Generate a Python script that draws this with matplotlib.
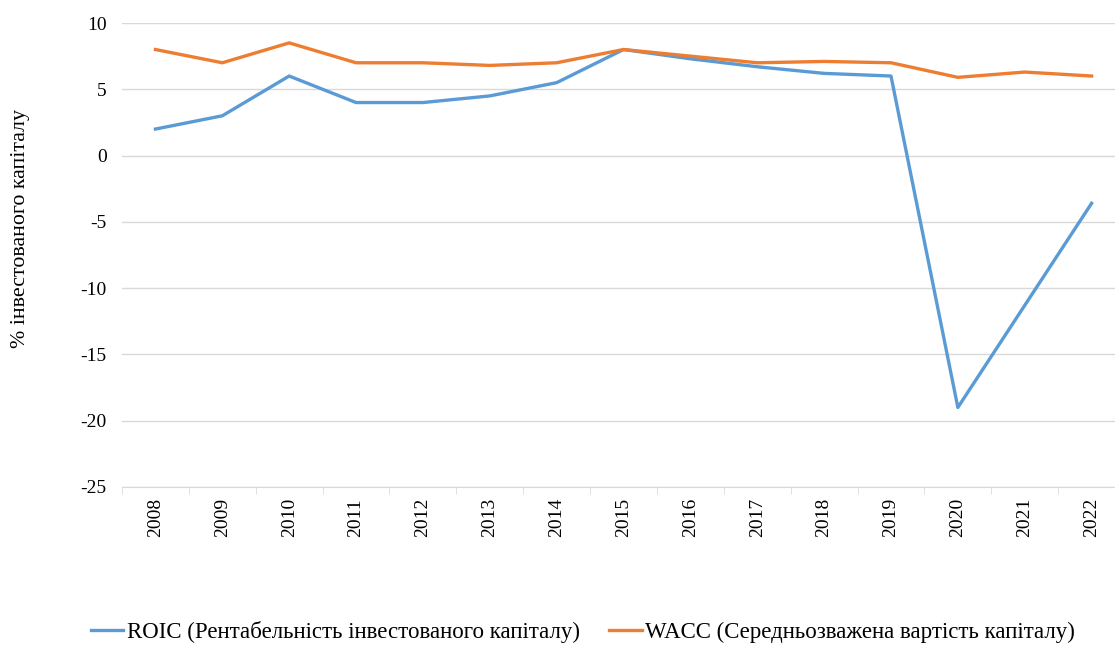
import matplotlib
matplotlib.use("Agg")
import matplotlib.pyplot as plt
from matplotlib.ticker import FixedLocator, NullFormatter

years = [str(y) for y in range(2008, 2023)]
roic = [2.0, 3.0, 6.0, 4.0, 4.0, 4.5, 5.5, 8.0, 7.3, 6.7, 6.2, 6.0, -19.0, -11.3, -3.6]
wacc = [8.0, 7.0, 8.5, 7.0, 7.0, 6.8, 7.0, 8.0, 7.5, 7.0, 7.1, 7.0, 5.9, 6.3, 6.0]
roic_label = "ROIC (Рентабельність інвестованого капіталу)"
wacc_label = "WACC (Середньозважена вартість капіталу)"

plt.rcParams['font.family'] = ['Liberation Serif', 'DejaVu Serif']
plt.rcParams['axes.unicode_minus'] = False

fig = plt.figure(figsize=(11.15, 6.46), dpi=100)
ax = fig.add_axes([122 / 1115, 1 - 487 / 646, 1 - 122 / 1115, (487 - 23) / 646])

x = list(range(len(years)))
ax.plot(x, roic, color='#5B9BD5', lw=2.4, label=roic_label, solid_joinstyle='round')
ax.plot(x, wacc, color='#ED7D31', lw=2.4, label=wacc_label, solid_joinstyle='round')

ax.set_ylim(-25, 10)
ax.set_yticks(range(-25, 11, 5))
ax.set_xlim(-0.5, 14.35)
ax.set_xticks(x)
ax.set_xticklabels(years, rotation=90)
ax.xaxis.set_minor_locator(FixedLocator([i - 0.5 for i in range(len(years) + 1)]))
ax.xaxis.set_minor_formatter(NullFormatter())
ax.tick_params(axis='x', which='major', length=0, pad=8, labelsize=14)
ax.tick_params(axis='x', which='minor', length=5, color='#d9d9d9')
ax.tick_params(axis='y', length=0, pad=11, labelsize=14)

ax.grid(axis='y', color='#d9d9d9', lw=1)
ax.set_axisbelow(True)
for side in ['top', 'right', 'left']:
    ax.spines[side].set_visible(False)
ax.spines['bottom'].set_color('#d9d9d9')

fig.text(21 / 1115, 1 - 228 / 646, "% інвестованого капіталу", rotation=90,
         ha='center', va='center', fontsize=15.8)

fig.legend(loc='center', bbox_to_anchor=(583 / 1115, 1 - 632 / 646), ncol=2,
           frameon=False, fontsize=16.5, handlelength=1.4, handletextpad=0.15,
           columnspacing=1.3)

fig.savefig("out.png", dpi=100)
